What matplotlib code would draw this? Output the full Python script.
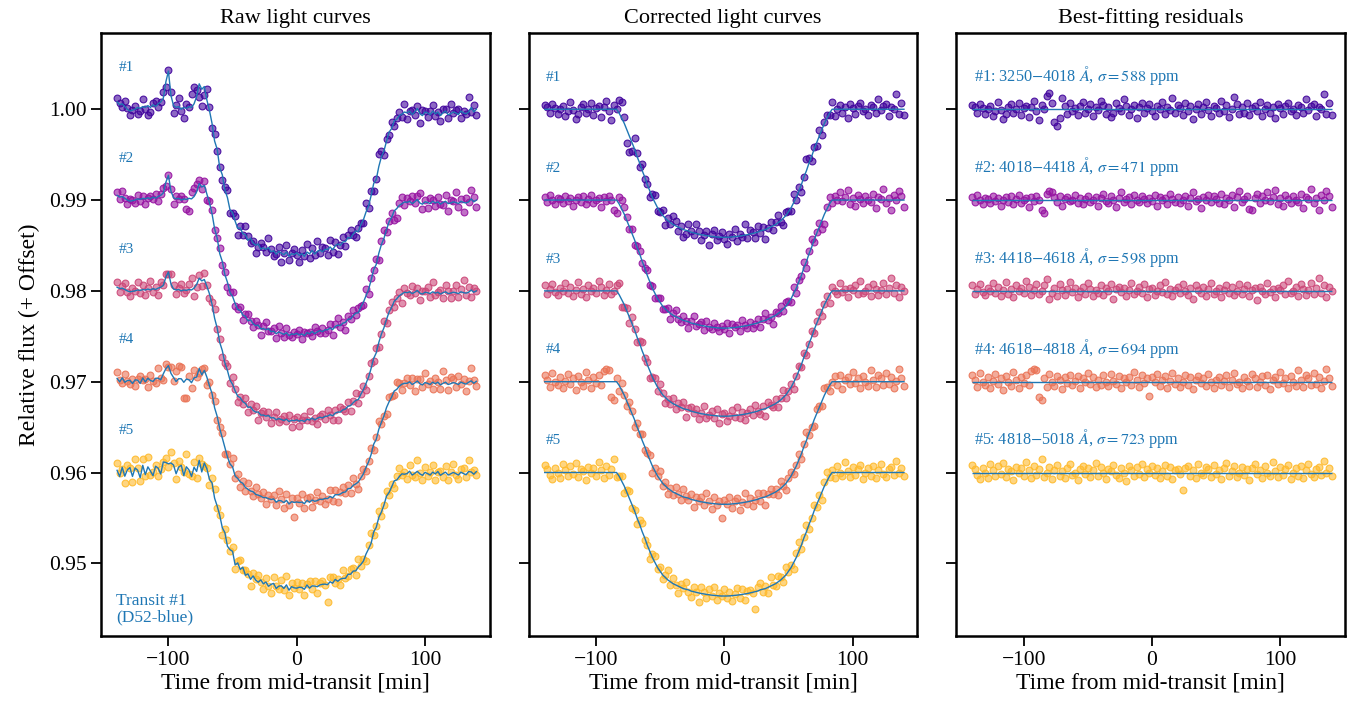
import numpy as np
import matplotlib
matplotlib.use("Agg")
import matplotlib.pyplot as plt
from matplotlib.colors import to_rgba

plt.rcParams['font.family'] = ['Liberation Serif', 'DejaVu Serif']
plt.rcParams['mathtext.fontset'] = 'stix'

# time grid [min], one point every 2 min
t = np.arange(-140, 141, 2)

names = ["#1", "#2", "#3", "#4", "#5"]
bands = ["3250$-$4018", "4018$-$4418", "4418$-$4618", "4618$-$4818", "4818$-$5018"]
sigmas = [588, 471, 598, 694, 723]
offsets = [1.00, 0.99, 0.98, 0.97, 0.96]
depth = [0.0141, 0.0141, 0.0138, 0.0135, 0.0136]       # corrected transit depth
raw_depth = [0.0160, 0.0148, 0.0143, 0.0133, 0.0127]   # raw transit depth
wig_scale = [1.0, 0.65, 0.5, 0.45, 0.3]
jit_scale = [0.0, 0.0, 0.0, 0.4, 1.0]
cvals = [0.1, 0.32, 0.5, 0.65, 0.85]
res_unit = 1.2e-4   # residual lists are in this unit

# normalised transit shape of the best-fit model (0 = out of transit, 1 = centre)
model_shape = [
    0, 0, 0, 0, 0, 0, 0, 0, 0, 0, 0, 0, 0, 0, 0, 0, 0, 0, 0, 0, 0, 0, 0, 0, 0, 0, 0, 0,
    0.0, 0.03, 0.07, 0.11, 0.16, 0.21, 0.26, 0.31, 0.37, 0.42, 0.48, 0.53, 0.59, 0.64,
    0.69, 0.73, 0.77, 0.80, 0.83, 0.85, 0.87, 0.885, 0.90, 0.91, 0.92, 0.93, 0.94, 0.945,
    0.95, 0.96, 0.965, 0.97, 0.975, 0.98, 0.983, 0.987, 0.99, 0.993, 0.995, 0.997, 0.999, 1.0,
    1.0,
    1.0, 0.999, 0.997, 0.995, 0.993, 0.99, 0.987, 0.983, 0.98, 0.975, 0.97, 0.965, 0.96, 0.95,
    0.945, 0.94, 0.93, 0.92, 0.91, 0.90, 0.885, 0.87, 0.85, 0.83, 0.80, 0.77, 0.73, 0.69,
    0.64, 0.59, 0.53, 0.48, 0.42, 0.37, 0.31, 0.26, 0.21, 0.16, 0.11, 0.07, 0.03, 0.0,
    0, 0, 0, 0, 0, 0, 0, 0, 0, 0, 0, 0, 0, 0, 0, 0, 0, 0, 0, 0, 0, 0, 0, 0, 0, 0, 0, 0]

# normalised transit shape seen in the raw light curves
raw_shape = [
    0, 0, 0, 0, 0, 0, 0, 0, 0, 0, 0, 0, 0, 0, 0, 0, 0, 0, 0, 0, 0, 0, 0, 0, 0, 0, 0, 0, 0, 0,
    0, 0, 0, 0, 0,
    0, 0.04, 0.11, 0.20, 0.30, 0.39, 0.47, 0.55, 0.62, 0.68,
    0.73, 0.77, 0.80, 0.83, 0.85, 0.87, 0.89, 0.90, 0.92, 0.93,
    0.94, 0.95, 0.96, 0.965, 0.97, 0.975, 0.98, 0.985, 0.99, 0.99,
    0.995, 0.995, 1, 1, 1, 1, 1, 1, 1, 0.995,
    0.995, 0.99, 0.99, 0.985, 0.98, 0.975, 0.97, 0.965, 0.96, 0.955,
    0.945, 0.94, 0.93, 0.92, 0.91, 0.895, 0.88, 0.865, 0.85, 0.83,
    0.80, 0.76, 0.72, 0.66, 0.60, 0.53, 0.47, 0.40, 0.34, 0.28,
    0.22, 0.17, 0.12, 0.08, 0.05, 0.03, 0.01,
    0, 0, 0, 0, 0, 0, 0, 0, 0, 0, 0, 0, 0, 0, 0, 0, 0, 0, 0, 0, 0, 0, 0, 0, 0, 0, 0, 0, 0]

# common-mode systematics in the raw curves [1e-4]
wiggle = [
    8, 5, 6, 3, 0, -2, -1, 0, 2, 1, 3, 2, 4, 2, 5, 3, 6, 8, 12, 30,
    42, 15, 4, 2, 3, 0, 2, 1, 3, 2, 6, 14, 28, 22, 25, 10,
    5, 2, -3, 4, -2, 3, -1, 2, -2, 3, 0, -3, 2, -1, 1, -2, 2, 0, -1, 2,
    -2, 1, 0, 3, -1, 1, -2, 2, 0, -1, 2, -2, 1, 0, 2, -1, 1, -2, 2, 0,
    3, -1, 1, 2, -1, 1, 0, 2, -2, 1, 2, -1, 1, 0, 2, -1, 1, 2, -2, 1,
    0, 2, -1, 1, 3, -2, 1, 2, -1, 0, 2, -2, 0, -3, -2, -4, -3,
    -4, -2, -6, -3, 1, -5, -7, -3, -4, -6, -2, -5, -3, -7, -4, -2, -6, -5, -3, -4,
    -6, -2, -4, -5, -3, 2, -3, 0]

# extra jitter of the redder raw curves [1e-4]
jitter = [
    0, -6, 4, -5, 3, 6, -4, 5, 2, -6, 7, -3, 5, 1, -5, 6, 3, -4, 8, 2,
    -3, 6, 7, -2, 5, 8, -4, 6, 2, -5, 4, -3, 5, -6, 3, 1, -4, 2, -2, 0,
    3, -2, 4, -3, 2, 5, -4, 3, -2, 4, -3, 2, -4, 3, 0, -2, 3, -1, 2, -3,
    1, 2, -2, 0, 1, -1, 2, -2, 1, 0, -1, 1, 0, -1, 2, -1, 0, 1, -1, 0,
    1, 0, -1, 1, 0, 2, -1, 1, 0, -1, 1,
    0, 1, -1, 2, 0, -1, 1, 0, -2, 1, 0, 1, -1, 0, 2, -1, 0, 1, -1, 0,
    1, -1, 0, 2, -1, 0, 1, 0, -1, 1, 0, -1, 1, 0, 2, -1, 0, 1, -1, 0,
    1, 0, -1, 1, 0, -1, 2, 0, -1, 1]

# best-fitting residuals [res_unit]
res1 = [4, 2, -3, 5, 1, -4, 0, 3, -6, -2, 7, -1, -9, -4, 2, 5, -3, 0, 6, -5,
        1, 3, -7, 2, 8, -2, -10, 4, 0, 12, 15, 6, -12, -15, -8, 10, 3, -4, 6, -2,
        1, -5, 3, 7, -3, 0, 5, -6, 2, -1, 8, 4, -4, 2, -7, -3, 6, 1, -2, 9,
        3, -5, 0, 4, -8, 2, 6, -3, 1, 5, -2, -6, 3, 0, 7, -4, 2, -1, 10, -3,
        4, 1, -5, 6, -2, 3, -9, 0, 5, -4, 2, 7, -1, -6, 3, 1, -3, 8, -2, 4,
        -7, 0, 11, 5, -4, 2, -3, 6, -5, 1, 3, -2, 7, -6, 0, 4, -3, 2, -8, 5,
        1, -4, 3, 6, -2, 0, -5, 4, 2, -3, 9, -1, 3, 5, -6, 2, 0, 14, -4, 6, -5]
res2 = [3, -2, 5, 0, -4, 2, 1, -3, 4, -1, 2, -5, 0, 3, -2, 4, -4, 1, 5, -3,
        0, 2, -6, 3, -1, 4, 0, -9, -12, 6, 8, 7, 3, -2, 4, -5, 1, 3, -1, 0,
        5, -3, 2, -4, 1, 4, -2, 0, 3, -5, 2, 6, -1, -3, 4, 0, -6, 2, 7, -2,
        1, 3, -4, 5, 0, -2, 4, 1, -3, 2, -1, 5, -5, 3, 0, 2, -4, 6, 1, -2,
        3, -3, 0, 4, -5, 2, 7, -1, 1, -7, 3, 0, 5, -2, 4, 1, -3, 6, -4, 2,
        0, 5, -6, 3, 8, -2, 1, 4, -8, -9, 2, 6, -3, 4, 0, 7, -1, 3, 9, -4,
        2, -5, 5, 1, -3, 4, 0, -2, 6, -7, 3, 1, 10, -3, 2, -9, 5, 0, 8, 4, -6]
res3 = [5, -3, 2, 6, -1, -4, 3, 0, 7, -2, 4, -5, 1, 8, -3, 2, -6, 5, 0, 3,
        -2, 9, 4, -4, 1, 6, -3, 0, 5, 11, -7, -2, 3, -5, 6, 1, -4, 2, 8, -1,
        3, -6, 0, 4, -3, 7, 2, -5, 1, -2, 5, -4, 3, 0, 6, -7, 2, 4, -1, 3,
        -5, 1, 7, -3, 0, 4, -2, 6, -6, 2, 3, -4, 0, 5, -1, 8, -3, 2, -5, 1,
        4, -2, 6, 0, -4, 3, -7, 5, 1, -2, 4, -5, 2, 7, -3, 0, 3, -6, 1, 5,
        -2, 4, -4, 0, 6, -3, 2, 5, -5, 1, 3, -8, 4, 0, -3, 7, -1, 2, -6, 3,
        1, 5, -3, 9, -2, 0, 4, -5, 6, 2, -4, 1, 7, -3, 3, 12, -2, 5, -6, 4, 0]
res4 = [6, 2, -5, 8, 0, -3, 4, -6, 1, 7, -2, 3, -8, 5, 0, -4, 9, 2, -6, 4,
        -1, 6, -3, 10, 12, 11, -14, -17, 3, -5, 7, 0, -4, 5, 2, -7, 4, -1, 6, -3,
        1, 5, -6, 3, 0, 8, -2, 4, -5, 2, -3, 6, 0, -4, 7, 1, -2, 5, -6, 3,
        0, 4, -3, 9, 2, -5, 6, -1, 3, -13, 4, 0, 7, -4, 2, 5, -6, 1, 8, -2,
        3, -5, 0, 6, -3, 4, -7, 2, 5, -1, 3, -4, 7, 0, -6, 2, 4, -3, 1, 6,
        -5, 2, 8, -2, 0, -6, 4, 1, -4, 7, 3, -5, 0, 5, -3, 6, -7, 2, 4, -2,
        9, -1, 3, -6, 5, 0, -4, 11, 2, -5, 6, 3, -3, 8, -2, 4, -6, 1, 12, 3, -4]
res5 = [7, 3, -2, -6, 4, 0, -5, 8, 2, -3, 6, -1, 9, -4, 3, 1, -7, 5, 0, 4,
        -3, 10, 2, -5, 6, -2, 3, 12, -4, 0, 5, -6, 2, 7, -3, 1, -5, 4, 8, -2,
        0, -7, 3, 6, -1, 4, -4, 2, 9, -3, 5, 0, -6, 3, 1, 7, -2, -5, 4, 0,
        -8, 6, 2, -3, 5, -1, 8, -4, 3, 0, 6, -2, 4, -5, 1, 7, -3, 5, -6, 2,
        3, -1, -16, 4, 6, -3, 2, -5, 8, 0, -2, 5, 3, -4, 7, -1, 2, -6, 4, 9,
        -3, 1, 6, -4, 0, 5, -2, 3, -7, 4, 8, -1, 2, -5, 6, 0, -3, 10, 1, -4,
        5, -2, 3, 7, -6, 0, 4, -3, 6, -5, 2, 8, -1, -4, 3, 5, -2, 11, 0, 4, -3]
residuals = [res1, res2, res3, res4, res5]

for arr in [model_shape, raw_shape, wiggle, jitter] + residuals:
    assert len(arr) == len(t), len(arr)

tcol = "#1f77b4"
fig, axes = plt.subplots(1, 3, figsize=(13.51, 7.06), dpi=100, sharey=True)
fig.subplots_adjust(left=0.0748, right=0.9956, top=0.9533, bottom=0.0992, wspace=0.1)
cmap = plt.get_cmap("plasma")

ms = np.array(model_shape)
rs = np.array(raw_shape)
wg = np.array(wiggle) * 1e-4
jt = np.array(jitter) * 1e-4

for i in range(5):
    c = cmap(cvals[i])
    face = to_rgba(c, 0.6)
    edge = to_rgba(c, 0.9)
    off = offsets[i]
    r = np.array(residuals[i]) * res_unit

    raw_line = off + wig_scale[i] * wg + jit_scale[i] * jt - raw_depth[i] * rs
    mod_line = off - depth[i] * ms

    ax = axes[0]
    ax.scatter(t, raw_line + r, s=24, facecolor=face, edgecolor=edge, linewidth=0.8, zorder=2)
    ax.plot(t, raw_line, color=tcol, lw=1.0, zorder=3)
    ax.text(-139, off + 0.0046, names[i], color=tcol, fontsize=11, va='center')

    ax = axes[1]
    ax.scatter(t, mod_line + r, s=24, facecolor=face, edgecolor=edge, linewidth=0.8, zorder=2)
    ax.plot(t, mod_line, color=tcol, lw=1.0, zorder=3)
    ax.text(-139, off + 0.0035, names[i], color=tcol, fontsize=11, va='center')

    ax = axes[2]
    ax.scatter(t, off + r, s=24, facecolor=face, edgecolor=edge, linewidth=0.8, zorder=2)
    ax.hlines(off, t[0], t[-1], color=tcol, lw=1.0, zorder=3)
    ax.text(-139, off + 0.0037, names[i] + ": " + bands[i] + r" $\AA$, $\sigma = %d$ ppm" % sigmas[i],
            color=tcol, fontsize=11.7, va='center')

axes[0].text(-141, 0.9432, "Transit #1\n(D52-blue)", color=tcol, fontsize=12.5, va='bottom',
             linespacing=1.0)

titles = ["Raw light curves", "Corrected light curves", "Best-fitting residuals"]
for ax, ti in zip(axes, titles):
    ax.set_title(ti, fontsize=16, pad=7)
    ax.set_xlim(-152.5, 150.5)
    ax.set_xticks([-100, 0, 100])
    ax.set_xlabel("Time from mid-transit [min]", fontsize=17, labelpad=2)
    ax.tick_params(direction='out', length=7, width=1.3, labelsize=15.5)
    for sp in ax.spines.values():
        sp.set_linewidth(1.8)

axes[0].set_ylim(0.942, 1.0084)
axes[0].set_yticks([0.95, 0.96, 0.97, 0.98, 0.99, 1.00])
axes[0].set_ylabel("Relative flux (+ Offset)", fontsize=17, labelpad=6)

fig.savefig("out.png", dpi=100)
